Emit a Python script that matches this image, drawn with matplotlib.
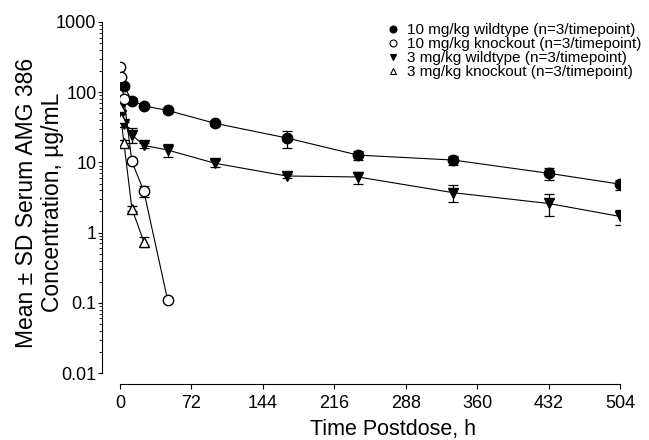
import numpy as np
import matplotlib
matplotlib.use("Agg")
from matplotlib import pyplot as plt
from matplotlib.lines import Line2D

plt.rcParams['font.family'] = ['Liberation Sans', 'DejaVu Sans']

# 10 mg/kg wildtype (filled circles)
wt10_time = [4, 12, 24, 48, 96, 168, 240, 336, 432, 504]
wt10_mean = [122, 76, 64, 55, 36, 22.3, 12.7, 10.8, 7.0, 4.9]
wt10_sd = [10, 6, 5, 4, 3, 6, 2, 1.6, 1.4, 0.8]

# 10 mg/kg knockout (open circles)
ko10_time = [0.5, 1, 4, 12, 24, 48]
ko10_mean = [226, 166, 79, 10.3, 3.9, 0.11]
ko10_sd = [15, 12, 5, 0.8, 0.65, 0.005]

# 3 mg/kg wildtype (filled down triangles)
wt3_time = [0.5, 1, 4, 12, 24, 48, 96, 168, 240, 336, 432, 504]
wt3_mean = [58, 48, 35, 24.6, 17.5, 15, 9.7, 6.4, 6.2, 3.7, 2.6, 1.7]
wt3_sd = [8, 6, 3, 6, 1.5, 3, 1, 0.4, 1.2, 1.0, 0.9, 0.4]

# 3 mg/kg knockout (open up triangles)
ko3_time = [0.5, 1, 4, 12, 24]
ko3_mean = [62, 43, 18.7, 2.2, 0.74]
ko3_sd = [8, 6, 2, 0.2, 0.12]

labels = ["10 mg/kg wildtype (n=3/timepoint)",
          "10 mg/kg knockout (n=3/timepoint)",
          "3 mg/kg wildtype (n=3/timepoint)",
          "3 mg/kg knockout (n=3/timepoint)"]
xticks = [0, 72, 144, 216, 288, 360, 432, 504]
yticks = [0.01, 0.1, 1, 10, 100, 1000]
yticklabels = ["0.01", "0.1", "1", "10", "100", "1000"]

fig = plt.figure(figsize=(6.49, 4.4), dpi=100)
ax = fig.add_axes([120/649, 67/440, 500/649, 351/440])

series = [
    (wt10_time, wt10_mean, wt10_sd, 'o', 'black'),
    (ko10_time, ko10_mean, ko10_sd, 'o', 'white'),
    (wt3_time, wt3_mean, wt3_sd, 'v', 'black'),
    (ko3_time, ko3_mean, ko3_sd, '^', 'white'),
]
proxies = []
for (t, m, s, mk, fc) in series:
    ax.errorbar(t, m, yerr=s, fmt='-' + mk, color='black', mfc=fc, mec='black',
                ms=7.5, lw=0.8, elinewidth=0.9, capsize=3.5, capthick=0.9,
                zorder=3)
    proxies.append(Line2D([], [], ls='none', marker=mk, mfc=fc, mec='black',
                          ms=5, mew=0.8))

ax.set_yscale('log')
ax.set_ylim(0.01, 1000)
ax.set_xlim(0, 504)
ax.set_xticks(xticks)
ax.set_yticks(yticks)
ax.set_yticklabels(yticklabels)

ax.spines['top'].set_visible(False)
ax.spines['right'].set_visible(False)
ax.spines['left'].set_position(('outward', 13))
ax.spines['bottom'].set_position(('outward', 8))
for sp in ['left', 'bottom']:
    ax.spines[sp].set_linewidth(0.8)

ax.tick_params(axis='both', which='major', labelsize=13, width=0.8)
ax.tick_params(axis='y', which='major', length=3, pad=1)
ax.tick_params(axis='y', which='minor', length=2, width=0.6)
ax.tick_params(axis='x', which='major', length=3.5, pad=4)

ax.set_xlabel("Time Postdose, h", fontsize=15.5)
ax.xaxis.set_label_coords(0.546, -0.13)
ax.set_ylabel("Mean \u00b1 SD Serum AMG 386\nConcentration, \u00b5g/mL", fontsize=16.5,
              linespacing=1.15)
ax.yaxis.set_label_coords(-0.112, 0.485)

# legend
leg = ax.legend(proxies, labels, loc='upper left', bbox_to_anchor=(387/649, 1 - 23/440),
                bbox_transform=fig.transFigure, frameon=False, fontsize=11,
                handlelength=0.8, handletextpad=0.5,
                labelspacing=0.0, borderpad=0, borderaxespad=0)

fig.savefig("out.png", dpi=100)
